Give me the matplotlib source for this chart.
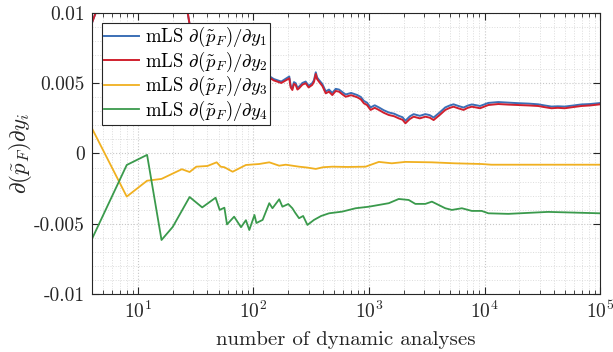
import matplotlib
matplotlib.use('Agg')
import matplotlib.pyplot as plt
import numpy as np
from matplotlib.ticker import LogLocator, MultipleLocator, NullFormatter

plt.rcParams['font.family'] = 'serif'
plt.rcParams['font.serif'] = ['cmr10', 'DejaVu Serif']
plt.rcParams['mathtext.fontset'] = 'cm'
plt.rcParams['axes.formatter.use_mathtext'] = True

# ---- data ----
n_dy12 = [4, 8, 12, 16, 20, 24, 28, 36, 48, 64, 90, 120, 150,
          174, 190, 204, 210, 217, 224, 232, 240, 248, 265, 283, 300, 322, 334, 346, 355, 369,
          395, 422, 450, 481, 515, 550, 590, 628, 700, 791, 850, 903, 960, 1031, 1120, 1217,
          1340, 1483, 1650, 1807, 1950, 2065, 2250, 2433, 2750, 3071, 3350, 3622, 4100, 4570,
          5000, 5385, 6000, 6580, 7150, 7750, 8400, 9140, 10790, 13150, 16000, 19580, 24000,
          29120, 33000, 37930, 43000, 49420, 58000, 68740, 82000, 100000]
dy2 = [0.0093, 0.016, 0.019, 0.017, 0.014, 0.0125, 0.0092, 0.0085, 0.0078, 0.0070, 0.0062, 0.0057, 0.0052,
       0.00502, 0.00520, 0.00535, 0.00470, 0.00452, 0.00495, 0.00488, 0.00455, 0.00464, 0.00490, 0.00500, 0.00470, 0.00488, 0.00510, 0.00566, 0.00530, 0.00511,
       0.00480, 0.00428, 0.00440, 0.00416, 0.00445, 0.00440, 0.00420, 0.00404, 0.00415, 0.00400, 0.00385, 0.00357, 0.00345, 0.00310, 0.00325, 0.00310,
       0.00290, 0.00274, 0.00265, 0.00250, 0.00240, 0.00215, 0.00245, 0.00262, 0.00250, 0.00262, 0.00255, 0.00238, 0.00275, 0.00310,
       0.00325, 0.00333, 0.00320, 0.00310, 0.00325, 0.00333, 0.00328, 0.00322, 0.00345, 0.00352, 0.00348, 0.00345, 0.00342,
       0.00338, 0.00330, 0.00322, 0.00325, 0.00322, 0.00330, 0.00338, 0.00342, 0.00350]
dy1 = [0.0093, 0.016, 0.019, 0.017, 0.014, 0.0125, 0.0092, 0.0086, 0.0079, 0.0071, 0.0063, 0.0058, 0.0053,
       0.00512, 0.00532, 0.00548, 0.00482, 0.00465, 0.00508, 0.00500, 0.00468, 0.00476, 0.00502, 0.00512, 0.00482, 0.00500, 0.00522, 0.00578, 0.00542, 0.00523,
       0.00494, 0.00442, 0.00455, 0.00431, 0.00460, 0.00455, 0.00436, 0.00420, 0.00431, 0.00416, 0.00402, 0.00374, 0.00362, 0.00328, 0.00343, 0.00328,
       0.00308, 0.00292, 0.00283, 0.00268, 0.00258, 0.00233, 0.00264, 0.00280, 0.00268, 0.00280, 0.00273, 0.00256, 0.00293, 0.00328,
       0.00342, 0.00350, 0.00337, 0.00327, 0.00341, 0.00349, 0.00344, 0.00338, 0.00360, 0.00366, 0.00362, 0.00358, 0.00355,
       0.00350, 0.00342, 0.00334, 0.00336, 0.00334, 0.00341, 0.00349, 0.00352, 0.00359]

n_dy3 = [4, 8, 12, 16, 24, 28, 32, 40, 48, 52, 56, 66, 86, 112, 137, 167, 190, 217, 248, 290, 346,
         400, 481, 650, 934, 1216, 1574, 2065, 3483, 5500, 9390, 11460, 30000, 100000]
dy3 = [0.00179, -0.00307, -0.00194, -0.00181, -0.00112, -0.00132, -0.00094, -0.00089, -0.00063, -0.00094,
       -0.00098, -0.00130, -0.00082, -0.00075, -0.00063, -0.00087, -0.00080, -0.00087, -0.00094, -0.00100, -0.00110,
       -0.00098, -0.00094, -0.00096, -0.00094, -0.00060, -0.00070, -0.00060, -0.00063, -0.00070, -0.00075, -0.00080,
       -0.00080, -0.00080]

n_dy4 = [4, 8, 12, 16, 20, 28, 36, 47, 51, 56, 59, 68, 78, 86, 92, 102, 106, 120, 137, 146, 167, 178,
         200, 217, 230, 248, 269, 293, 334, 385, 451, 586, 766, 997, 1483, 1807, 2204, 2517, 3071,
         3500, 4570, 5213, 6360, 7750, 9440, 10790, 16040, 35460, 100000]
dy4 = [-0.00609, -0.00082, -0.00010, -0.00616, -0.00523, -0.00310, -0.00384, -0.00315, -0.00402, -0.00386,
       -0.00505, -0.00450, -0.00525, -0.00475, -0.00545, -0.00438, -0.00495, -0.00473, -0.00354, -0.00390,
       -0.00326, -0.00379, -0.00360, -0.00390, -0.00423, -0.00461, -0.00445, -0.00509, -0.00473, -0.00445,
       -0.00426, -0.00414, -0.00390, -0.00379, -0.00354, -0.00324, -0.00331, -0.00359, -0.00359, -0.00343,
       -0.00390, -0.00402, -0.00390, -0.00409, -0.00409, -0.00426, -0.00430, -0.00416, -0.00426]

labels = [r'mLS $\partial(\tilde{p}_F)/\partial y_1$', r'mLS $\partial(\tilde{p}_F)/\partial y_2$',
          r'mLS $\partial(\tilde{p}_F)/\partial y_3$', r'mLS $\partial(\tilde{p}_F)/\partial y_4$']
colors = ['#3b6fb6', '#d0202e', '#f0b020', '#3a9a4c']
y_ticks = [-0.01, -0.005, 0, 0.005, 0.01]
y_ticklabels = ['-0.01', '-0.005', '0', '0.005', '0.01']

# ---- plot ----
fig = plt.figure(figsize=(6.13, 3.52), dpi=100)
ax = fig.add_axes([0.150, 0.165, 0.829, 0.798])

ax.plot(n_dy12, dy1, color=colors[0], lw=1.4, label=labels[0])
ax.plot(n_dy12, dy2, color=colors[1], lw=1.4, label=labels[1])
ax.plot(n_dy3, dy3, color=colors[2], lw=1.3, label=labels[2])
ax.plot(n_dy4, dy4, color=colors[3], lw=1.3, label=labels[3])

ax.set_xscale('log')
ax.set_xlim(4, 1e5)
ax.set_ylim(-0.01, 0.01)
ax.set_yticks(y_ticks)
ax.set_yticklabels(y_ticklabels)
ax.yaxis.set_minor_locator(MultipleLocator(0.001))
ax.xaxis.set_major_locator(LogLocator(base=10, numticks=10))
ax.xaxis.set_minor_locator(LogLocator(base=10, subs=np.arange(2, 10), numticks=20))
ax.xaxis.set_minor_formatter(NullFormatter())

ax.grid(True, which='major', ls=':', color='#c8c8c8', lw=0.8)
ax.grid(True, which='minor', ls=':', color='#dcdcdc', lw=0.7)
ax.set_axisbelow(True)

ax.tick_params(which='both', direction='in', top=True, right=True, labelsize=14, colors='#262626')
ax.tick_params(which='major', length=5, width=0.8)
ax.tick_params(axis='y', which='major', pad=5)
ax.tick_params(axis='x', which='major', pad=5)
ax.tick_params(axis='x', which='minor', length=3, width=0.6)
ax.tick_params(axis='y', which='minor', length=0)
for edge in ['right', 'bottom', 'top', 'left']:
    ax.spines[edge].set_color('#262626')
    ax.spines[edge].set_linewidth(0.8)

ax.set_xlabel('number of dynamic analyses', fontsize=15, color='#262626', labelpad=6)
ax.set_ylabel(r'$\partial(\tilde{p}_F)\partial y_i$', fontsize=16.5, color='#262626', labelpad=0)

leg = ax.legend(loc='upper left', bbox_to_anchor=(0.019, 0.965), fontsize=13.5, frameon=True,
                fancybox=False, edgecolor='#262626', framealpha=1, borderpad=0.12,
                handlelength=1.9, handletextpad=0.3, labelspacing=0.02, borderaxespad=0)
leg.get_frame().set_linewidth(0.8)

fig.savefig('out.png', dpi=100)
